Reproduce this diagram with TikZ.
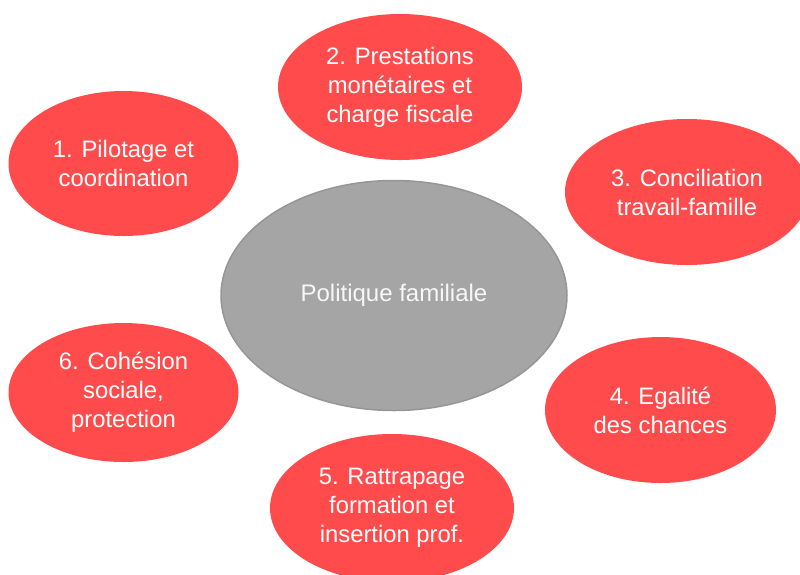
\documentclass[tikz,border=0pt]{standalone}
\usepackage{fontspec}
\setmainfont{Liberation Sans}
\usetikzlibrary{shapes.geometric}
\definecolor{topicred}{RGB}{255,75,75}
\definecolor{hubgray}{RGB}{165,165,165}
\definecolor{hubline}{RGB}{150,150,150}
\begin{document}
\begin{tikzpicture}[x=1pt,y=-1pt,
  topic/.style={ellipse, fill=topicred, text=white, inner sep=0pt, align=center,
    font=\fontsize{23.8}{29}\selectfont},
  hub/.style={ellipse, fill=hubgray, draw=hubline, line width=1.5pt, text=white!97!black,
    inner sep=0pt, font=\fontsize{24}{29}\selectfont}]
\useasboundingbox (0,0) rectangle (800,574);

% Center ellipse
\node[hub, minimum width=346pt, minimum height=230pt] (politique) at (394,295.5) {Politique familiale};

% Topics around it
\node[topic, minimum width=230pt, minimum height=145pt] (pilotage) at (123.5,163.5) {1. Pilotage et\\coordination};
\node[topic, minimum width=244pt, minimum height=146pt] (prestations) at (400,87) {2. Prestations\\mon\'etaires et\\charge fiscale};
\node[topic, minimum width=244pt, minimum height=146pt] (conciliation) at (687,192) {3. Conciliation\\travail-famille};
\node[topic, minimum width=231pt, minimum height=146pt] (egalite) at (660.5,410) {4. Egalit\'e\\des chances};
\node[topic, minimum width=244pt, minimum height=148pt] (rattrapage) at (392,508) {5. Rattrapage\\formation et\\insertion prof.};
\node[topic, minimum width=230pt, minimum height=139pt] (cohesion) at (123.5,392.5) {6. Coh\'esion\\sociale,\\protection};

\end{tikzpicture}
\end{document}
